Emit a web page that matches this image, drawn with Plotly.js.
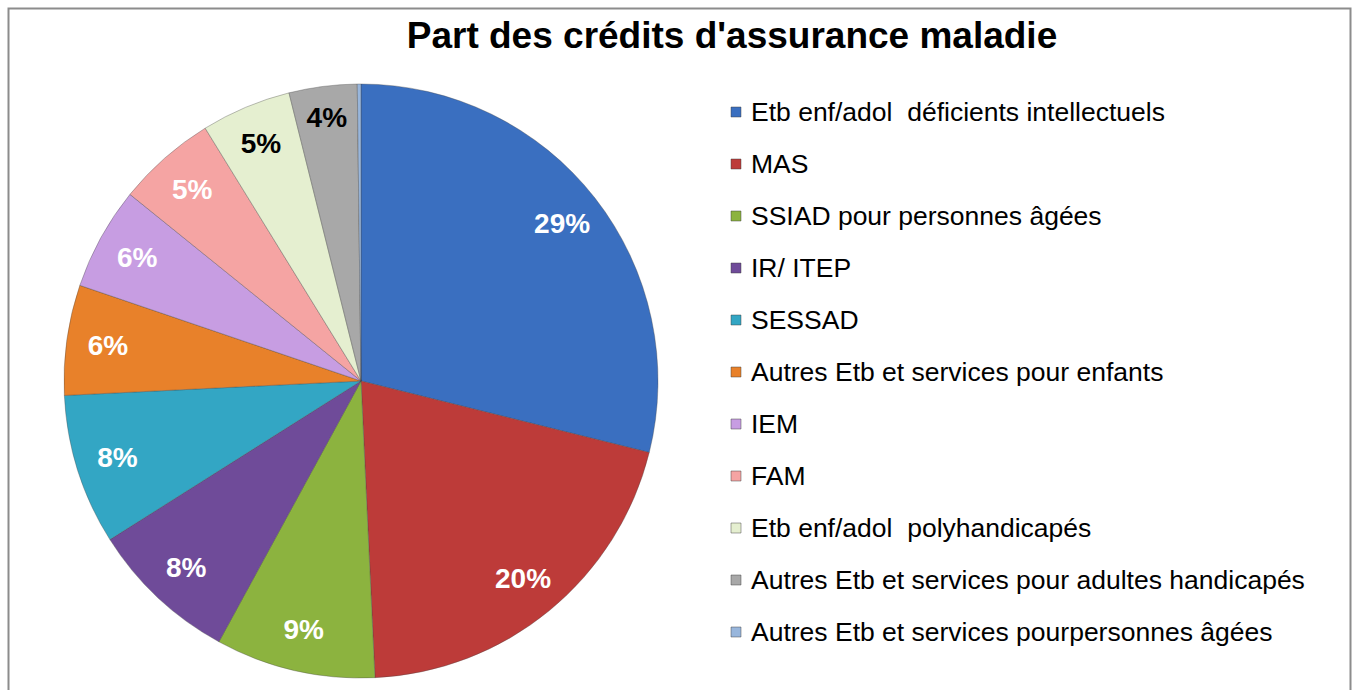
<!DOCTYPE html>
<html>
<head>
<meta charset="utf-8">
<script src="https://cdn.plot.ly/plotly-3.0.1.min.js"></script>
<style>
  html, body { margin: 0; padding: 0; background: #ffffff; }
  #chart { width: 1352px; height: 690px; }
</style>
</head>
<body>
<div id="chart"></div>
<script>
// ---- Data ----
const categories = [
  "Etb enf/adol \u00a0déficients intellectuels",
  "MAS",
  "SSIAD pour personnes âgées",
  "IR/ ITEP",
  "SESSAD",
  "Autres Etb et services pour enfants",
  "IEM",
  "FAM",
  "Etb enf/adol \u00a0polyhandicapés",
  "Autres Etb et services pour adultes handicapés",
  "Autres Etb et services pourpersonnes âgées"
];
const shares = [28.9, 20.4, 8.7, 8.1, 8.2, 6.0, 5.6, 5.4, 4.9, 3.7, 0.2];
const sliceColors = [
  "#3a6fc0", "#bd3b39", "#8cb33f", "#6f4b99", "#33a6c4", "#e8812a",
  "#c79de2", "#f5a4a3", "#e5efd0", "#a8a8a8", "#98b6dc"
];
const labelColors = [
  "#ffffff", "#ffffff", "#ffffff", "#ffffff", "#ffffff", "#ffffff",
  "#ffffff", "#ffffff", "#000000", "#000000", "#000000"
];
const labelTemplates = shares.map(v => v >= 1 ? "%{percent:.0%}" : "");
const chartTitle = "Part des crédits d'assurance maladie";

// ---- Layout helpers (pixel -> paper, margins are zero) ----
const W = 1352, H = 690;
const px = x => x / W;
const py = y => 1 - y / H;
const FONT = "Liberation Sans, Arial, Helvetica, sans-serif";

const cx = 361, cy = 381, R = 297;
const pieDomain = { x: [px(cx - R), px(cx + R)], y: [py(cy + R), py(cy - R)] };

const pieTrace = {
  type: "pie",
  labels: categories,
  values: shares,
  sort: false,
  direction: "clockwise",
  rotation: 0,
  domain: pieDomain,
  marker: { colors: sliceColors, line: { color: "rgba(70,70,70,0.35)", width: 1 } },
  textinfo: "none",
  showlegend: false,
  hoverinfo: "label+percent"
};

// transparent ring used only to place the percentage labels near the rim
const labelTrace = {
  type: "pie",
  labels: categories,
  values: shares,
  sort: false,
  direction: "clockwise",
  rotation: 0,
  hole: 0.72,
  domain: pieDomain,
  marker: { colors: shares.map(() => "rgba(0,0,0,0)"), line: { width: 0 } },
  texttemplate: labelTemplates,
  textposition: "inside",
  insidetextorientation: "horizontal",
  textfont: { family: FONT, size: 28, weight: "bold", color: labelColors },
  showlegend: false,
  hoverinfo: "skip"
};

// ---- Legend drawn from the category / colour arrays ----
const legendTop = 112, legendStep = 52, markerX = 736, textX = 749, mk = 5;
const annotations = categories.map((c, i) => ({
  xref: "paper", yref: "paper",
  x: px(textX), y: py(legendTop + i * legendStep),
  xanchor: "left", yanchor: "middle",
  text: c, showarrow: false,
  font: { family: FONT, size: 26.5, color: "#000000" }
}));
const shapes = sliceColors.map((col, i) => ({
  type: "rect", xref: "paper", yref: "paper",
  x0: px(markerX - mk), x1: px(markerX + mk),
  y0: py(legendTop + i * legendStep + mk), y1: py(legendTop + i * legendStep - mk),
  fillcolor: col, line: { color: "rgba(60,60,60,0.45)", width: 1 }
}));
// chart frame
shapes.push({
  type: "rect", xref: "paper", yref: "paper",
  x0: px(8.5), x1: px(1350.5), y0: py(700), y1: py(8.5),
  line: { color: "#8c8c8c", width: 2 }, fillcolor: "rgba(0,0,0,0)"
});

const layout = {
  width: W, height: H,
  margin: { l: 0, r: 0, t: 0, b: 0 },
  paper_bgcolor: "#ffffff",
  plot_bgcolor: "#ffffff",
  showlegend: false,
  title: {
    text: chartTitle,
    font: { family: FONT, size: 37, weight: "bold", color: "#000000" },
    x: px(732), xanchor: "center", xref: "paper",
    y: py(35), yanchor: "middle", yref: "paper"
  },
  annotations: annotations,
  shapes: shapes
};

Plotly.newPlot("chart", [pieTrace, labelTrace], layout, { displayModeBar: false, staticPlot: true });
</script>
</body>
</html>
